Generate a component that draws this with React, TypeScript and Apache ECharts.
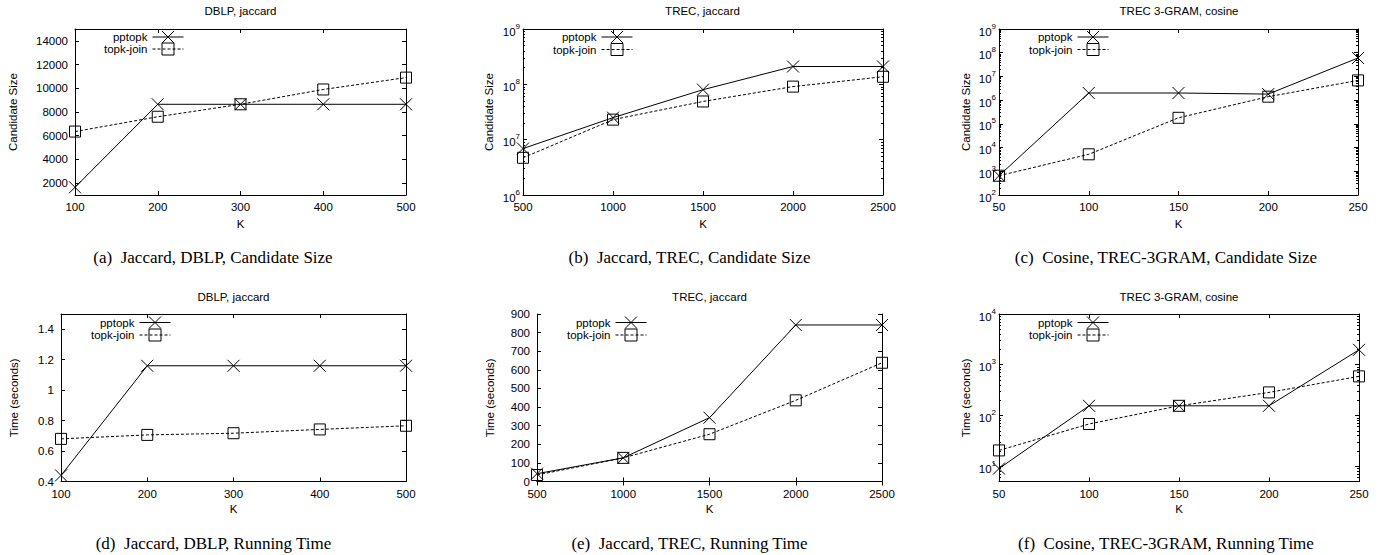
import React, { useEffect, useRef } from 'react';
import * as echarts from 'echarts';

// ---------- data ----------
const kDBLP = [100, 200, 300, 400, 500];
const kTREC = [500, 1000, 1500, 2000, 2500];
const kGRAM = [50, 100, 150, 200, 250];

const sizeDblpPptopk = [1650, 8650, 8650, 8650, 8650];
const sizeDblpTopkJoin = [6350, 7600, 8650, 9900, 10900];
const sizeTrecPptopk = [6.9e6, 2.5e7, 8.0e7, 2.1e8, 2.1e8];
const sizeTrecTopkJoin = [4.7e6, 2.3e7, 4.9e7, 9.1e7, 1.37e8];
const sizeGramPptopk = [650, 2.0e6, 2.0e6, 1.8e6, 6.0e7];
const sizeGramTopkJoin = [650, 5.2e3, 1.8e5, 1.4e6, 6.8e6];

const timeDblpPptopk = [0.44, 1.16, 1.16, 1.16, 1.16];
const timeDblpTopkJoin = [0.68, 0.706, 0.717, 0.742, 0.766];
const timeTrecPptopk = [42, 127, 343, 841, 841];
const timeTrecTopkJoin = [35, 127, 254, 436, 638];
const timeGramPptopk = [9, 155, 155, 155, 1970];
const timeGramTopkJoin = [20.5, 68, 155, 285, 590];

const ticksSizeDblp = [2000, 4000, 6000, 8000, 10000, 12000, 14000];
const ticksSizeTrec = [1e6, 1e7, 1e8, 1e9];
const ticksSizeGram = [1e2, 1e3, 1e4, 1e5, 1e6, 1e7, 1e8, 1e9];
const ticksTimeDblp = [0.4, 0.6, 0.8, 1, 1.2, 1.4];
const ticksTimeTrec = [0, 100, 200, 300, 400, 500, 600, 700, 800, 900];
const ticksTimeGram = [1e1, 1e2, 1e3, 1e4];

const seriesNames = ['pptopk', 'topk-join'];

const titles = ['DBLP, jaccard', 'TREC, jaccard', 'TREC 3-GRAM, cosine', 'DBLP, jaccard', 'TREC, jaccard', 'TREC 3-GRAM, cosine'];
const captions = [
  '(a)  Jaccard, DBLP, Candidate Size',
  '(b)  Jaccard, TREC, Candidate Size',
  '(c)  Cosine, TREC-3GRAM, Candidate Size',
  '(d)  Jaccard, DBLP, Running Time',
  '(e)  Jaccard, TREC, Running Time',
  '(f)  Cosine, TREC-3GRAM, Running Time',
];

// ---------- layout ----------
const FONT = '"Liberation Sans", Arial, Helvetica, sans-serif';
const SERIF = '"Liberation Serif", "Times New Roman", Times, serif';
const FS = 11.5;
const BLACK = '#000';

type Panel = {
  ks: number[]; pp: number[]; tj: number[];
  xMin: number; xMax: number; xInt: number;
  log: boolean; yMin: number; yMax: number; yTicks: number[];
  yName: string;
  grid: { left: number; top: number; width: number; height: number };
  yNameX: number; legendEnd: number; legendY: number[];
  titleX: number; titleY: number; capX: number; capY: number;
};

const panels: Panel[] = [
  { ks: kDBLP, pp: sizeDblpPptopk, tj: sizeDblpTopkJoin, xMin: 100, xMax: 500, xInt: 100, log: false, yMin: 1000, yMax: 15000, yTicks: ticksSizeDblp, yName: 'Candidate Size',
    grid: { left: 75, top: 29, width: 331, height: 166 }, yNameX: 12, legendEnd: 184, legendY: [38, 50], titleX: 240.5, titleY: 11, capX: 213, capY: 257 },
  { ks: kTREC, pp: sizeTrecPptopk, tj: sizeTrecTopkJoin, xMin: 500, xMax: 2500, xInt: 500, log: true, yMin: 1e6, yMax: 1e9, yTicks: ticksSizeTrec, yName: 'Candidate Size',
    grid: { left: 523, top: 29, width: 360, height: 166 }, yNameX: 488, legendEnd: 633, legendY: [38, 50.5], titleX: 702.5, titleY: 11, capX: 689.5, capY: 257 },
  { ks: kGRAM, pp: sizeGramPptopk, tj: sizeGramTopkJoin, xMin: 50, xMax: 250, xInt: 50, log: true, yMin: 1e2, yMax: 1e9, yTicks: ticksSizeGram, yName: 'Candidate Size',
    grid: { left: 999, top: 29, width: 359, height: 166 }, yNameX: 965, legendEnd: 1109, legendY: [38, 50.5], titleX: 1179, titleY: 11, capX: 1166, capY: 257 },
  { ks: kDBLP, pp: timeDblpPptopk, tj: timeDblpTopkJoin, xMin: 100, xMax: 500, xInt: 100, log: false, yMin: 0.4, yMax: 1.5, yTicks: ticksTimeDblp, yName: 'Time (seconds)',
    grid: { left: 61, top: 314, width: 345, height: 167.5 }, yNameX: 13, legendEnd: 171, legendY: [323.5, 336], titleX: 233.5, titleY: 297, capX: 213.5, capY: 543 },
  { ks: kTREC, pp: timeTrecPptopk, tj: timeTrecTopkJoin, xMin: 500, xMax: 2500, xInt: 500, log: false, yMin: 0, yMax: 900, yTicks: ticksTimeTrec, yName: 'Time (seconds)',
    grid: { left: 537, top: 314, width: 345, height: 167.5 }, yNameX: 489, legendEnd: 647, legendY: [323.5, 336], titleX: 709.5, titleY: 297, capX: 689.5, capY: 543 },
  { ks: kGRAM, pp: timeGramPptopk, tj: timeGramTopkJoin, xMin: 50, xMax: 250, xInt: 50, log: true, yMin: 5, yMax: 1e4, yTicks: ticksTimeGram, yName: 'Time (seconds)',
    grid: { left: 999, top: 314, width: 360, height: 167.5 }, yNameX: 965, legendEnd: 1109, legendY: [323.5, 336], titleX: 1179, titleY: 297, capX: 1166, capY: 543 },
];

const CROSS = 'path://M0,0L10,10M10,0L0,10';

function minorTicks(min: number, max: number) {
  const out: number[] = [];
  let d = Math.pow(10, Math.floor(Math.log10(min)));
  while (d < max) {
    for (let m = 2; m <= 9; m++) {
      const v = m * d;
      if (v > min && v < max) out.push(v);
    }
    d *= 10;
  }
  return out;
}

function buildOption() {
  const grid: any[] = [];
  const xAxis: any[] = [];
  const yAxis: any[] = [];
  const series: any[] = [];
  const legend: any[] = [];
  const graphic: any[] = [];
  const line = { show: true, lineStyle: { color: BLACK, width: 1 } };
  const tick = (len: number, custom?: number[]) => ({ show: true, inside: true, length: len, lineStyle: { color: BLACK, width: 1 }, ...(custom ? { customValues: custom } : {}) });

  panels.forEach((p, i) => {
    grid.push({ ...p.grid, containLabel: false, outerBoundsMode: 'none' });
    const xi = xAxis.length;
    xAxis.push({
      type: 'value', gridIndex: i, position: 'bottom', min: p.xMin, max: p.xMax, interval: p.xInt,
      name: 'K', nameLocation: 'middle', nameGap: i < 3 ? 23 : 21, nameMoveOverlap: false,
      nameTextStyle: { color: BLACK, fontFamily: FONT, fontSize: FS },
      axisLine: line, axisTick: tick(4), splitLine: { show: false },
      axisLabel: { color: BLACK, fontFamily: FONT, fontSize: FS, margin: 6, showMinLabel: true, showMaxLabel: true, hideOverlap: false,
        formatter: (v: number) => String(v) },
    });
    xAxis.push({
      type: 'value', gridIndex: i, position: 'top', min: p.xMin, max: p.xMax, interval: p.xInt,
      axisLine: line, axisTick: tick(4), splitLine: { show: false }, axisLabel: { show: false },
    });
    const yi = yAxis.length;
    const yBase: any = p.log
      ? { type: 'log', logBase: 10, min: p.yMin, max: p.yMax }
      : { type: 'value', min: p.yMin, max: p.yMax };
    yAxis.push({
      ...yBase, gridIndex: i, position: 'left',
      name: p.yName, nameLocation: 'middle', nameRotate: 90, nameMoveOverlap: false,
      nameGap: p.grid.left - p.yNameX - 7,
      nameTextStyle: { color: BLACK, fontFamily: FONT, fontSize: FS },
      axisLine: line, axisTick: tick(4, p.yTicks), splitLine: { show: false }, minorTick: { show: false },
      axisLabel: p.log
        ? {
            customValues: p.yTicks, margin: 3, color: BLACK, fontFamily: FONT, hideOverlap: false,
            formatter: (v: number) => `{b|10}{s|${Math.round(Math.log10(v))}}`,
            rich: {
              b: { fontSize: FS, fontFamily: FONT, color: BLACK, padding: [5, 0, 0, 0] },
              s: { fontSize: 8, fontFamily: FONT, color: BLACK, padding: [0, 0, 6, 0] },
            },
          }
        : {
            customValues: p.yTicks, margin: 7, color: BLACK, fontFamily: FONT, fontSize: FS, hideOverlap: false,
            formatter: (v: number) => String(Math.round(v * 1000) / 1000),
          },
    });
    yAxis.push({
      ...yBase, gridIndex: i, position: 'right',
      axisLine: line, axisTick: tick(4, p.yTicks), splitLine: { show: false }, axisLabel: { show: false },
    });
    if (p.log) {
      const mt = minorTicks(p.yMin, p.yMax);
      ['left', 'right'].forEach((pos) => {
        yAxis.push({
          ...yBase, gridIndex: i, position: pos,
          axisLine: { show: false }, axisTick: tick(2, mt), splitLine: { show: false }, axisLabel: { show: false },
        });
      });
    }

    const mk = (vals: number[]) => p.ks.map((k, j) => [k, vals[j]]);
    series.push({
      type: 'line', name: seriesNames[0], xAxisIndex: xi, yAxisIndex: yi, data: mk(p.pp),
      symbol: CROSS, symbolSize: 12, clip: false, silent: true, z: 3,
      itemStyle: { color: 'transparent', borderColor: BLACK, borderWidth: 1 },
      lineStyle: { color: BLACK, width: 1, type: 'solid' },
      emphasis: { disabled: true },
    });
    series.push({
      type: 'line', name: seriesNames[1], xAxisIndex: xi, yAxisIndex: yi, data: mk(p.tj),
      symbol: 'rect', symbolSize: 11, clip: false, silent: true, z: 2,
      itemStyle: { color: 'transparent', borderColor: BLACK, borderWidth: 1 },
      lineStyle: { color: BLACK, width: 1, type: [3, 2] },
      emphasis: { disabled: true },
    });

    seriesNames.forEach((nm, j) => {
      legend.push({
        data: [nm], orient: 'vertical', align: 'right', right: 1388 - p.legendEnd, top: p.legendY[j] - 7.5,
        padding: 0, itemWidth: 31, itemHeight: 15, itemGap: 0, selectedMode: false,
        textStyle: { color: BLACK, fontFamily: FONT, fontSize: FS, padding: [0, 0, 0, 0] },
        itemStyle: { borderWidth: 1, borderColor: BLACK, color: 'transparent' },
        lineStyle: { width: 1, color: BLACK },
      });
    });

    graphic.push({
      type: 'text', x: p.titleX, y: p.titleY, silent: true,
      style: { text: titles[i], fill: BLACK, fontFamily: FONT, fontSize: FS, align: 'center', verticalAlign: 'middle' },
    });
    graphic.push({
      type: 'text', x: p.capX, y: p.capY, silent: true,
      style: { text: captions[i], fill: BLACK, fontFamily: SERIF, fontSize: 17, align: 'center', verticalAlign: 'middle' },
    });
  });

  return {
    animation: false,
    backgroundColor: '#fff',
    textStyle: { fontFamily: FONT },
    grid, xAxis, yAxis, series, legend, graphic,
    tooltip: { show: false },
  };
}

export default function App() {
  const ref = useRef<HTMLDivElement>(null);
  useEffect(() => {
    if (!ref.current) return;
    const chart = echarts.init(ref.current, undefined, { renderer: 'svg' });
    chart.setOption(buildOption() as any);
    return () => chart.dispose();
  }, []);
  return <div ref={ref} style={{ position: 'absolute', left: 0, top: 0, width: 1388, height: 555, background: '#fff' }} />;
}
